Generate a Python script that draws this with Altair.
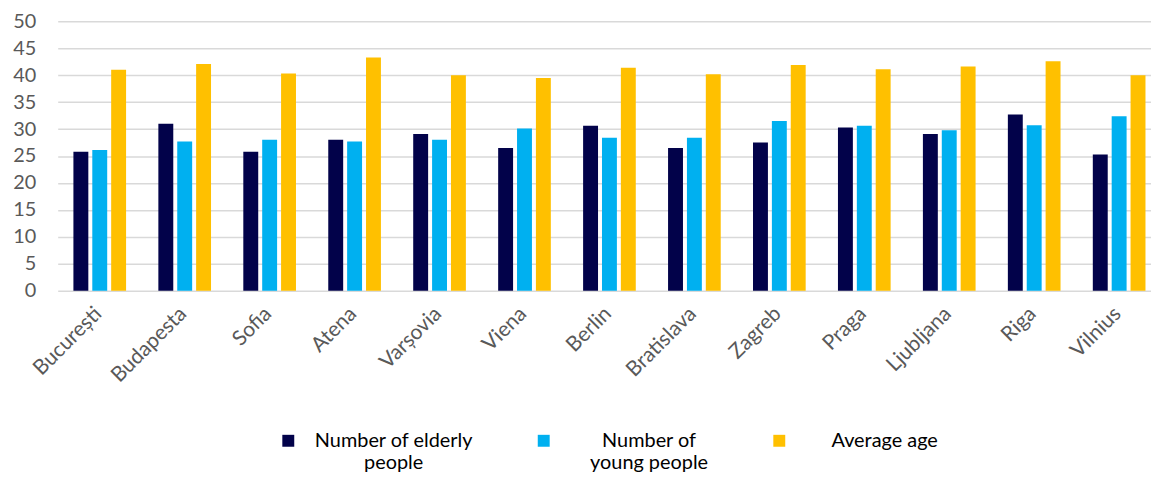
import altair as alt
import pandas as pd

cities = ["București", "Budapesta", "Sofia", "Atena", "Varșovia", "Viena", "Berlin",
          "Bratislava", "Zagreb", "Praga", "Ljubljana", "Riga", "Vilnius"]
elderly = [25.8, 31.0, 25.8, 28.0, 29.1, 26.5, 30.6, 26.5, 27.5, 30.3, 29.1, 32.7, 25.3]
young = [26.1, 27.7, 28.0, 27.7, 28.0, 30.1, 28.4, 28.4, 31.5, 30.6, 29.8, 30.7, 32.4]
avg_age = [41.0, 42.1, 40.3, 43.3, 40.0, 39.5, 41.4, 40.2, 41.9, 41.1, 41.6, 42.6, 40.0]
series = ["Number of elderly people", "Number of young people", "Average age"]
legend_lines = [["Number of elderly", "people"], ["Number of", "young people"], ["Average age", " "]]
colors = ["#02024A", "#00B0F0", "#FFC000"]
y_ticks = [0, 5, 10, 15, 20, 25, 30, 35, 40, 45, 50]

rows = []
for s, vals in zip(series, [elderly, young, avg_age]):
    for c, v in zip(cities, vals):
        rows.append({"city": c, "series": s, "value": v})
df = pd.DataFrame(rows)

label_expr = " : ".join(
    [f"datum.label == '{s}' ? {lines!r}" for s, lines in zip(series, legend_lines)]
) + " : datum.label"

FONT = "Lato"

chart = alt.Chart(df).mark_bar().encode(
    x=alt.X("city:N", sort=cities,
            scale=alt.Scale(paddingInner=0.38, paddingOuter=0.125, align=0.74),
            axis=alt.Axis(title=None, labelAngle=-45, labelFontSize=21, labelColor="#595959",
                          labelFont=FONT, ticks=False, domain=False, labelPadding=12,
                          labelOffset=-9, labelAlign="right", labelBaseline="top")),
    xOffset=alt.XOffset("series:N", sort=series,
                        scale=alt.Scale(paddingInner=0.21, paddingOuter=0)),
    y=alt.Y("value:Q", scale=alt.Scale(domain=[0, 50]),
            axis=alt.Axis(title=None, values=y_ticks, labelFontSize=20, labelColor="#595959",
                          labelFont=FONT, ticks=False, domain=False, labelPadding=22,
                          gridColor="#D9D9D9", gridWidth=1.5)),
    color=alt.Color("series:N", sort=series,
                    scale=alt.Scale(domain=series, range=colors),
                    legend=alt.Legend(title=None, orient="none", legendX=222, legendY=412,
                                      direction="horizontal", symbolType="square",
                                      symbolSize=144, symbolStrokeWidth=0,
                                      labelFontSize=20, labelFont=FONT, labelColor="#000000",
                                      labelAlign="center", labelOffset=96,
                                      columnPadding=61, labelExpr=label_expr,
                                      labelLimit=400)),
).properties(
    width=1100, height=271,
    padding={"left": 4, "top": 2, "right": 0, "bottom": 0},
).configure_view(stroke=None)

chart.save("out.html", embed_options={"renderer": "svg", "actions": False})
